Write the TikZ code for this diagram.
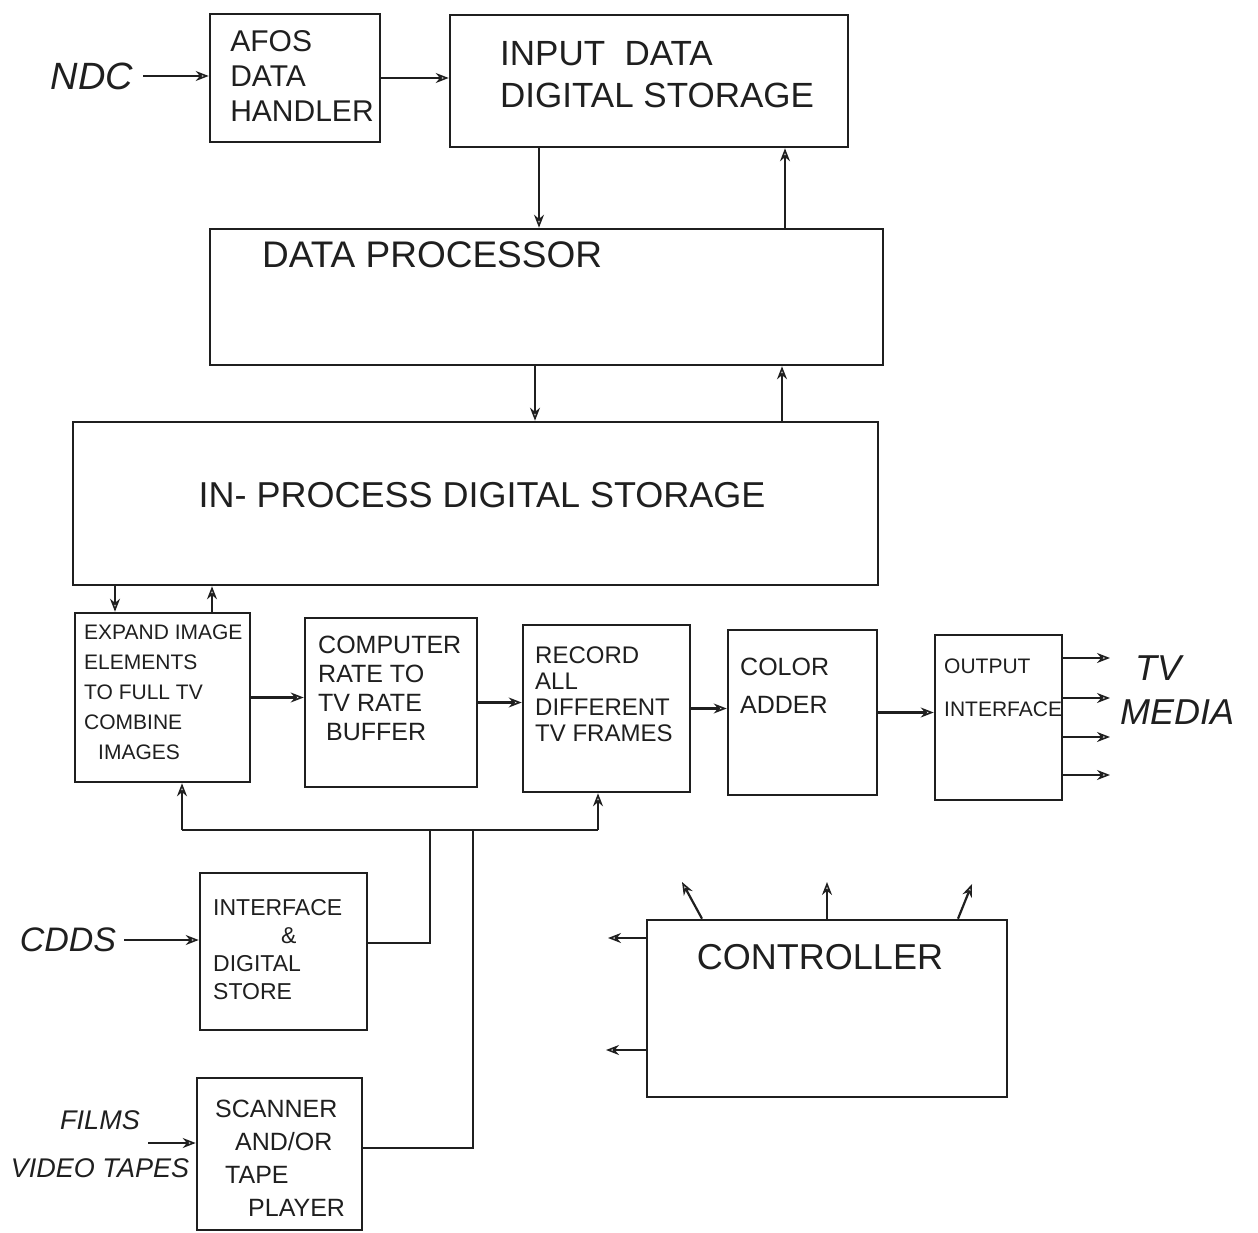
\documentclass[tikz,border=0pt]{standalone}
\usepackage{fontspec}
\setmainfont{Liberation Sans}
\usetikzlibrary{arrows.meta}
\begin{document}
\begin{tikzpicture}[x=1pt,y=-1pt,
  box/.style={draw=black!88,line width=2.6pt,rectangle,inner sep=0pt},
  txt/.style={inner sep=0pt,align=left,text=black!88},
  arr/.style={draw=black!88,line width=2.2pt,-{Stealth[open,length=13pt,width=10pt,line width=1.6pt]}},
  ln/.style={draw=black!88,line width=2.2pt}
]
\useasboundingbox (0,0) rectangle (1258,1233);
\fill[white] (0,0) rectangle (1258,1233);

% boxes
\node[box,minimum width=170pt,minimum height=128pt] (afos) at (295,78) {};
\node[box,minimum width=398pt,minimum height=132pt] (input) at (649,81) {};
\node[box,minimum width=673pt,minimum height=136pt] (proc) at (546.5,297) {};
\node[box,minimum width=805pt,minimum height=163pt] (inproc) at (475.5,503.5) {};
\node[box,minimum width=175pt,minimum height=169pt] (expand) at (162.5,697.5) {};
\node[box,minimum width=172pt,minimum height=169pt] (computer) at (391,702.5) {};
\node[box,minimum width=167pt,minimum height=167pt] (record) at (606.5,708.5) {};
\node[box,minimum width=149pt,minimum height=165pt] (color) at (802.5,712.5) {};
\node[box,minimum width=127pt,minimum height=165pt] (output) at (998.5,717.5) {};
\node[box,minimum width=167pt,minimum height=157pt] (interface) at (283.5,951.5) {};
\node[box,minimum width=165pt,minimum height=152pt] (scanner) at (279.5,1154) {};
\node[box,minimum width=360pt,minimum height=177pt] (controller) at (827,1008.5) {};

% box texts
\node[txt,font=\fontsize{30}{35}\selectfont] (tafos) at (302,76) {AFOS\\DATA\\HANDLER};
\node[txt,anchor=west,font=\fontsize{35}{42}\selectfont] (tinput) at (500,75) {INPUT \ DATA\\DIGITAL STORAGE};
\node[txt,anchor=west,font=\fontsize{37}{40}\selectfont] (tproc) at (262,255) {DATA PROCESSOR};
\node[txt,font=\fontsize{36}{40}\selectfont] (tinproc) at (482,495) {IN- PROCESS DIGITAL STORAGE};
\node[txt,anchor=west,font=\fontsize{21}{30}\selectfont] (texpand) at (84,692) {EXPAND IMAGE\\ELEMENTS\\TO FULL TV\\COMBINE\\\hspace*{14pt}IMAGES};
\node[txt,anchor=west,font=\fontsize{25}{29}\selectfont] (tcomputer) at (318,688) {COMPUTER\\RATE TO\\TV RATE\\\hspace*{8pt}BUFFER};
\node[txt,anchor=west,font=\fontsize{24}{26}\selectfont] (trecord) at (535,694) {RECORD\\ALL\\DIFFERENT\\TV FRAMES};
\node[txt,anchor=west,font=\fontsize{25}{38}\selectfont] (tcolor) at (740,686) {COLOR\\ADDER};
\node[txt,anchor=west,font=\fontsize{21}{43}\selectfont] (toutput) at (944,688) {OUTPUT\\INTERFACE};
\node[txt,anchor=west,font=\fontsize{23}{28}\selectfont] (tinterface) at (213,950) {INTERFACE\\\hspace*{68pt}\&\\DIGITAL\\STORE};
\node[txt,anchor=west,font=\fontsize{25}{33}\selectfont] (tscanner) at (215,1158) {SCANNER\\\hspace*{20pt}AND/OR\\\hspace*{10pt}TAPE\\\hspace*{33pt}PLAYER};
\node[txt,font=\fontsize{36}{40}\selectfont] (tcontroller) at (820,957) {CONTROLLER};

% outside labels
\node[txt,font=\fontsize{38}{40}\selectfont\itshape] (ndc) at (92,76) {NDC};
\node[txt,font=\fontsize{34}{40}\selectfont\itshape] (cdds) at (68,940) {CDDS};
\node[txt,align=center,font=\fontsize{27}{48}\selectfont\itshape] (films) at (100,1144) {FILMS\\VIDEO TAPES};
\node[txt,anchor=west,font=\fontsize{36}{44}\selectfont\itshape] (tv) at (1120,690) {\hspace*{15pt}TV\\MEDIA};

% helper x positions
\coordinate (xa) at (539,0);
\coordinate (xb) at (785,0);
\coordinate (xc) at (535,0);
\coordinate (xd) at (782,0);
\coordinate (xe) at (115,0);
\coordinate (xf) at (212,0);

% top chain
\draw[arr,shorten <=10pt] (ndc.east) -- (ndc.east -| afos.west);
\draw[arr] (afos.east) -- (afos.east -| input.west);
\draw[arr] (input.south -| xa) -- (proc.north -| xa);
\draw[arr] (proc.north -| xb) -- (input.south -| xb);
\draw[arr] (proc.south -| xc) -- (inproc.north -| xc);
\draw[arr] (inproc.north -| xd) -- (proc.south -| xd);
\draw[arr] (inproc.south -| xe) -- (expand.north -| xe);
\draw[arr] (expand.north -| xf) -- (inproc.south -| xf);

% middle row
\draw[arr] (expand.east) -- (expand.east -| computer.west);
\draw[arr] (computer.east) -- (computer.east -| record.west);
\draw[arr] (record.east) -- (record.east -| color.west);
\draw[arr] (color.east) -- (color.east -| output.west);

% outputs
\coordinate (o1) at (1110,658);
\coordinate (o2) at (1110,698);
\coordinate (o3) at (1110,737);
\coordinate (o4) at (1110,775);
\draw[arr] (output.east |- o1) -- (o1);
\draw[arr] (output.east |- o2) -- (o2);
\draw[arr] (output.east |- o3) -- (o3);
\draw[arr] (output.east |- o4) -- (o4);

% bus
\coordinate (busL) at (182,830);
\coordinate (busR) at (598,830);
\coordinate (j1) at (430,830);
\coordinate (j2) at (473,830);
\draw[ln] (busL) -- (busR);
\draw[arr] (busL) -- (expand.south -| busL);
\draw[arr] (busR) -- (record.south -| busR);
\draw[ln] (interface.east |- 0,943) -| (j1);
\draw[ln] (scanner.east |- 0,1148) -| (j2);

% inputs to lower boxes
\draw[arr,shorten <=8pt] (cdds.east) -- (cdds.east -| interface.west);
\coordinate (fa) at (148,1143);
\draw[arr] (fa) -- (fa -| scanner.west);

% controller arrows
\coordinate (cs1) at (702,0);
\coordinate (cs2) at (827,0);
\coordinate (cs3) at (958,0);
\coordinate (ct1) at (682,882);
\coordinate (ct2) at (827,882);
\coordinate (ct3) at (972,884);
\draw[arr] (controller.north -| cs1) -- (ct1);
\draw[arr] (controller.north -| cs2) -- (ct2);
\draw[arr] (controller.north -| cs3) -- (ct3);
\coordinate (cl1) at (608,938);
\coordinate (cl2) at (606,1050);
\draw[arr] (controller.west |- cl1) -- (cl1);
\draw[arr] (controller.west |- cl2) -- (cl2);
\end{tikzpicture}
\end{document}
